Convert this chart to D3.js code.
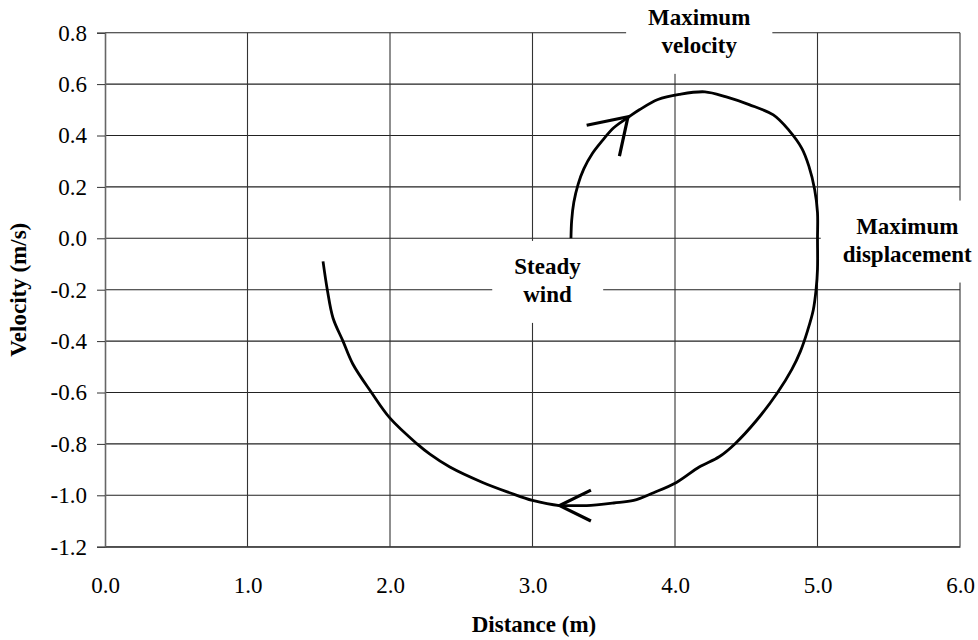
<!DOCTYPE html>
<html>
<head>
<meta charset="utf-8">
<script src="https://cdn.jsdelivr.net/npm/d3@7"></script>
<style>
  html, body { margin: 0; padding: 0; background: #fff; }
  svg { display: block; }
  svg text { font-family: "Liberation Serif", "Times New Roman", "DejaVu Serif", serif; }
</style>
</head>
<body>
<div id="chart"></div>
<script>
// ── data ─────────────────────────────────────────────
const xTicks = [0, 1, 2, 3, 4, 5, 6];
const yTicks = [-1.2, -1.0, -0.8, -0.6, -0.4, -0.2, 0.0, 0.2, 0.4, 0.6, 0.8];

// wind-induced motion: distance (m) vs velocity (m/s)
const distance = [3.27, 3.275, 3.29, 3.32, 3.36, 3.42, 3.49, 3.57, 3.67, 3.75, 3.88, 4.03,
  4.21, 4.36, 4.52, 4.69, 4.80, 4.89, 4.94, 4.98, 5.00, 5.00, 5.00, 4.99, 4.97, 4.93,
  4.88, 4.82, 4.72, 4.57, 4.42, 4.31, 4.17, 4.01, 3.85, 3.71, 3.57, 3.38, 3.28, 3.19,
  3.00, 2.84, 2.65, 2.42, 2.28, 2.19, 2.00, 1.87, 1.74, 1.67, 1.60, 1.56, 1.53];
const velocity = [0.00, 0.07, 0.14, 0.21, 0.27, 0.33, 0.38, 0.43, 0.47, 0.50, 0.54, 0.56,
  0.57, 0.55, 0.52, 0.48, 0.42, 0.35, 0.28, 0.19, 0.10, 0.00, -0.12, -0.20, -0.28, -0.36,
  -0.44, -0.51, -0.60, -0.71, -0.80, -0.85, -0.89, -0.95, -0.99, -1.02, -1.03, -1.04, -1.04, -1.04,
  -1.02, -0.99, -0.95, -0.89, -0.84, -0.80, -0.70, -0.60, -0.49, -0.40, -0.31, -0.20, -0.09];

// direction arrows: [arm, tip, arm]
const arrowUp   = [[3.38, 0.44], [3.67, 0.473], [3.61, 0.32]];
const arrowDown = [[3.41, -0.98], [3.19, -1.04], [3.41, -1.10]];

// annotation texts, anchored at (distance, velocity) of their centre line
const notes = [
  { lines: ['Maximum', 'velocity'],     x: 4.17, y: 0.776 },
  { lines: ['Maximum', 'displacement'], x: 5.63, y: -0.036 },
  { lines: ['Steady', 'wind'],          x: 3.105, y: -0.193 }
];

// ── layout ───────────────────────────────────────────
const W = 978, H = 640;
const plot = { left: 105, right: 960, top: 32.7, bottom: 546.7 };
const fmt = d => d3.format('.1f')(d).replace('\u2212', '-');

const svg = d3.select('#chart').append('svg')
  .attr('width', W).attr('height', H);

const x = d3.scaleLinear().domain([0, 6]).range([plot.left, plot.right]);
const y = d3.scaleLinear().domain([-1.2, 0.8]).range([plot.bottom, plot.top]);

// ── gridlines ────────────────────────────────────────
svg.append('g')
  .selectAll('line')
  .data(yTicks)
  .join('line')
    .attr('x1', plot.left).attr('x2', plot.right)
    .attr('y1', d => y(d)).attr('y2', d => y(d))
    .attr('stroke', '#222').attr('stroke-width', 1.1);

svg.append('g')
  .selectAll('line')
  .data(xTicks.slice(1))
  .join('line')
    .attr('x1', d => x(d)).attr('x2', d => x(d))
    .attr('y1', plot.top).attr('y2', plot.bottom)
    .attr('stroke', '#333').attr('stroke-width', 1.1);

// ── axes ─────────────────────────────────────────────
const yAxis = svg.append('g')
  .attr('transform', `translate(${plot.left},0)`)
  .call(d3.axisLeft(y).tickValues(yTicks).tickSize(8).tickPadding(10).tickFormat(fmt));
yAxis.attr('font-family', null);
yAxis.select('.domain').attr('stroke', '#666').attr('stroke-width', 1.6);
yAxis.selectAll('.tick line').attr('stroke', '#333');
yAxis.selectAll('.tick text').attr('font-size', 23).attr('fill', '#000');

const xAxis = svg.append('g')
  .attr('transform', `translate(0,${plot.bottom})`)
  .call(d3.axisBottom(x).tickValues(xTicks).tickSize(0).tickPadding(30).tickFormat(fmt));
xAxis.attr('font-family', null);
xAxis.select('.domain').attr('stroke', '#333').attr('stroke-width', 1.1);
xAxis.selectAll('.tick text').attr('font-size', 23).attr('fill', '#000');

// ── axis titles ──────────────────────────────────────
svg.append('text')
  .attr('x', 534)
  .attr('y', 632)
  .attr('text-anchor', 'middle')
  .attr('font-size', 23).attr('font-weight', 'bold')
  .text('Distance (m)');

svg.append('text')
  .attr('transform', `translate(26,${(plot.top + plot.bottom) / 2}) rotate(-90)`)
  .attr('text-anchor', 'middle')
  .attr('font-size', 23).attr('font-weight', 'bold')
  .text('Velocity (m/s)');

// ── annotation boxes (white, over the grid) ─────────
const lineH = 28;
notes.forEach(n => {
  const cx = x(n.x), cy = y(n.y);
  const g = svg.append('g');
  const t = g.append('text')
    .attr('text-anchor', 'middle')
    .attr('font-size', 23).attr('font-weight', 'bold');
  n.lines.forEach((s, i) => {
    t.append('tspan').attr('x', cx)
      .attr('y', cy + (i - (n.lines.length - 1) / 2) * lineH)
      .text(s);
  });
  const bb = t.node().getBBox();
  g.insert('rect', 'text')
    .attr('x', bb.x - 22).attr('y', bb.y - 13)
    .attr('width', bb.width + 44).attr('height', bb.height + 29)
    .attr('fill', '#fff');
});

// ── curve ────────────────────────────────────────────
const pts = distance.map((d, i) => [d, velocity[i]]);
const line = d3.line().x(d => x(d[0])).y(d => y(d[1])).curve(d3.curveCatmullRom.alpha(0.5));

svg.append('path')
  .attr('d', line(pts))
  .attr('fill', 'none').attr('stroke', '#000')
  .attr('stroke-width', 2.8).attr('stroke-linejoin', 'round');

[arrowUp, arrowDown].forEach(a => {
  svg.append('path')
    .attr('d', d3.line().x(d => x(d[0])).y(d => y(d[1]))(a))
    .attr('fill', 'none').attr('stroke', '#000')
    .attr('stroke-width', 3.2).attr('stroke-linejoin', 'miter');
});
</script>
</body>
</html>
